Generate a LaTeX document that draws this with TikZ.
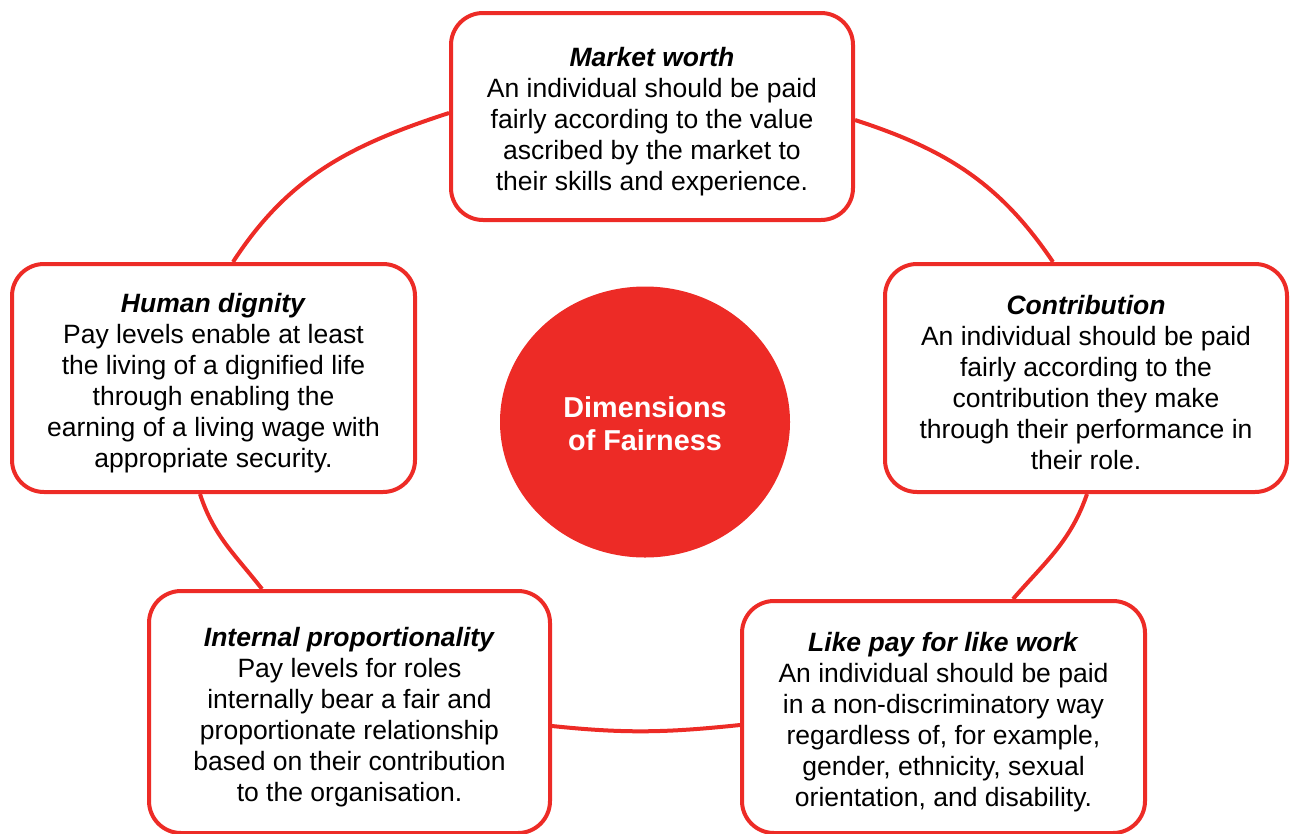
\documentclass[tikz,border=0pt]{standalone}
\usepackage{fontspec}
\setmainfont{Liberation Sans}
\usepackage{tikz}
\usetikzlibrary{shapes.geometric,positioning}
\definecolor{fairred}{RGB}{237,43,38}
\newcommand{\dimtitle}[1]{\rule{0pt}{29pt}\textbf{\textit{#1}}}

\begin{document}
\begin{tikzpicture}[x=1pt,y=1pt]
  \tikzset{dimbox/.style = {shape=rectangle,draw=fairred,fill=white,line width=4pt,rounded corners=32pt,align=center,inner sep=0pt,font=\fontsize{26.5}{31}\selectfont}}
  \tikzset{hub/.style = {shape=ellipse,fill=fairred,text=white,align=center,minimum width=290pt,minimum height=271pt,inner sep=0pt,font=\fontsize{28.8}{33}\selectfont\bfseries}}
  \tikzset{ring/.style = {draw=fairred,line width=4pt}}

  \useasboundingbox (0,0) rectangle (1295,-833);

	\node[dimbox,minimum width=402pt,minimum height=207pt] (mw) at (652,-116.5)
	  {\dimtitle{Market worth}\\An individual should be paid\\fairly according to the value\\ascribed by the market to\\their skills and experience.};
	\node[dimbox,minimum width=403pt,minimum height=228pt] (hd) at (213.5,-378)
	  {\dimtitle{Human dignity}\\Pay levels enable at least\\the living of a dignified life\\through enabling the\\earning of a living wage with\\appropriate security.};
	\node[dimbox,minimum width=402pt,minimum height=228pt] (co) at (1086,-378)
	  {\dimtitle{Contribution}\\An individual should be paid\\fairly according to the\\contribution they make\\through their performance in\\their role.};
	\node[dimbox,minimum width=401pt,minimum height=242pt] (ip) at (349.5,-712)
	  {\dimtitle{Internal proportionality}\\Pay levels for roles\\internally bear a fair and\\proportionate relationship\\based on their contribution\\to the organisation.};
	\node[dimbox,minimum width=403pt,minimum height=232pt] (lp) at (943.5,-717)
	  {\dimtitle{Like pay for like work}\\An individual should be paid\\in a non-discriminatory way\\regardless of, for example,\\gender, ethnicity, sexual\\orientation, and disability.};

	\node[hub] (dim) at (645,-422) {\rule{0pt}{25pt}Dimensions\\of Fairness};

	% where the ring meets the boxes
	\coordinate (mwW) at ([yshift=3.5pt]mw.west);
	\coordinate (mwE) at ([yshift=-3.5pt]mw.east);
	\coordinate (hdN) at ([xshift=19.5pt]hd.north);
	\coordinate (hdS) at ([xshift=-13.5pt]hd.south);
	\coordinate (coN) at ([xshift=-33pt]co.north);
	\coordinate (coS) at ([xshift=1pt]co.south);
	\coordinate (ipN) at ([xshift=-87.5pt]ip.north);
	\coordinate (ipE) at ([yshift=-14pt]ip.east);
	\coordinate (lpN) at ([xshift=69.5pt]lp.north);
	\coordinate (lpW) at ([yshift=-8pt]lp.west);

    \foreach \from/\to/\o/\i in {mwW/hdN/198/57, mwE/coN/-18/124, hdS/ipN/-72/128, coS/lpN/251/49, ipE/lpW/-6/186}
    \path[ring] (\from) to[out=\o,in=\i] (\to);

\end{tikzpicture}
\end{document}
